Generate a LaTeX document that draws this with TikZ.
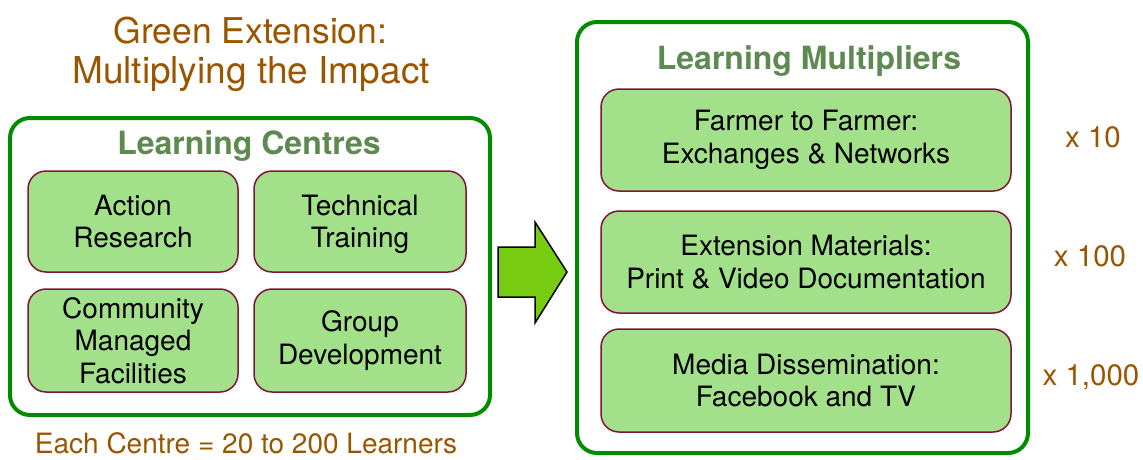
\documentclass[tikz,border=0pt]{standalone}
\usepackage{fontspec}
\setmainfont{TeX Gyre Heros}
\definecolor{outergreen}{RGB}{0,140,0}
\definecolor{headgreen}{RGB}{94,138,82}
\definecolor{titlebrown}{RGB}{153,85,0}
\definecolor{boxfill}{RGB}{162,224,138}
\definecolor{boxborder}{RGB}{128,20,60}
\definecolor{arrowfill}{RGB}{119,204,17}
\begin{document}
\begin{tikzpicture}[x=1pt,y=-1pt,
  outerbox/.style={draw=outergreen, line width=4pt, rounded corners=20pt, inner sep=0pt},
  itembox/.style={draw=boxborder, fill=boxfill, line width=1.5pt, rounded corners=18pt,
    align=center, inner sep=0pt, font=\fontsize{28}{32.5}\selectfont},
  heading/.style={text=headgreen, font=\bfseries\fontsize{32}{36}\selectfont, anchor=base, inner sep=0pt},
  note/.style={text=titlebrown, font=\fontsize{28}{33}\selectfont, anchor=base, inner sep=0pt},
  mult/.style={text=titlebrown, font=\fontsize{29.5}{34}\selectfont, anchor=base, inner sep=0pt},
  bigarrow/.style={draw=black, fill=arrowfill, line width=1.5pt, line join=miter}
]
\useasboundingbox (0,0) rectangle (1143,459);

% title
\node[note, font=\fontsize{35.5}{40}\selectfont] (t1) at (250.5,43) {Green Extension:};
\node[note, font=\fontsize{37}{40}\selectfont] (t2) at (251,83) {Multiplying the Impact};

% left group
\node[outerbox, minimum width=480pt, minimum height=297pt] (lc) at (250,266.5) {};
\node[heading] (lch) at (249,154) {Learning Centres};
\node[itembox, minimum width=210pt, minimum height=101pt] (ar) at (133,221.5) {Action\\Research};
\node[itembox, minimum width=212pt, minimum height=101pt, text depth=0pt] (tt) at (360,221.5) {Technical\\Training};
\node[itembox, minimum width=210pt, minimum height=103pt] (cm) at (133,340.5) {Community\\Managed\\Facilities};
\node[itembox, minimum width=212pt, minimum height=103pt] (gd) at (360,340.5) {Group\\Development};
\node[note] (each) at (246,453) {Each Centre = 20 to 200 Learners};

% arrow
\draw[bigarrow] (498,247) -- (535,247) -- (535,222) -- (567,272) -- (535,323) -- (535,297) -- (498,297) -- cycle;

% right group
\node[outerbox, minimum width=451pt, minimum height=431pt] (lm) at (802.5,237.5) {};
\node[heading] (lmh) at (809,69) {Learning Multipliers};
\node[itembox, minimum width=410pt, minimum height=102pt] (ff) at (806,140) {Farmer to Farmer:\\Exchanges \& Networks};
\node[itembox, minimum width=410pt, minimum height=102pt] (em) at (806,262) {Extension Materials:\\Print \& Video Documentation};
\node[itembox, minimum width=410pt, minimum height=103pt] (md) at (806,380.5) {Media Dissemination:\\Facebook and TV};

\node[mult] (m1) at (1093,147) {x 10};
\node[mult] (m2) at (1090,266) {x 100};
\node[mult] (m3) at (1091,385) {x 1,000};
\end{tikzpicture}
\end{document}
